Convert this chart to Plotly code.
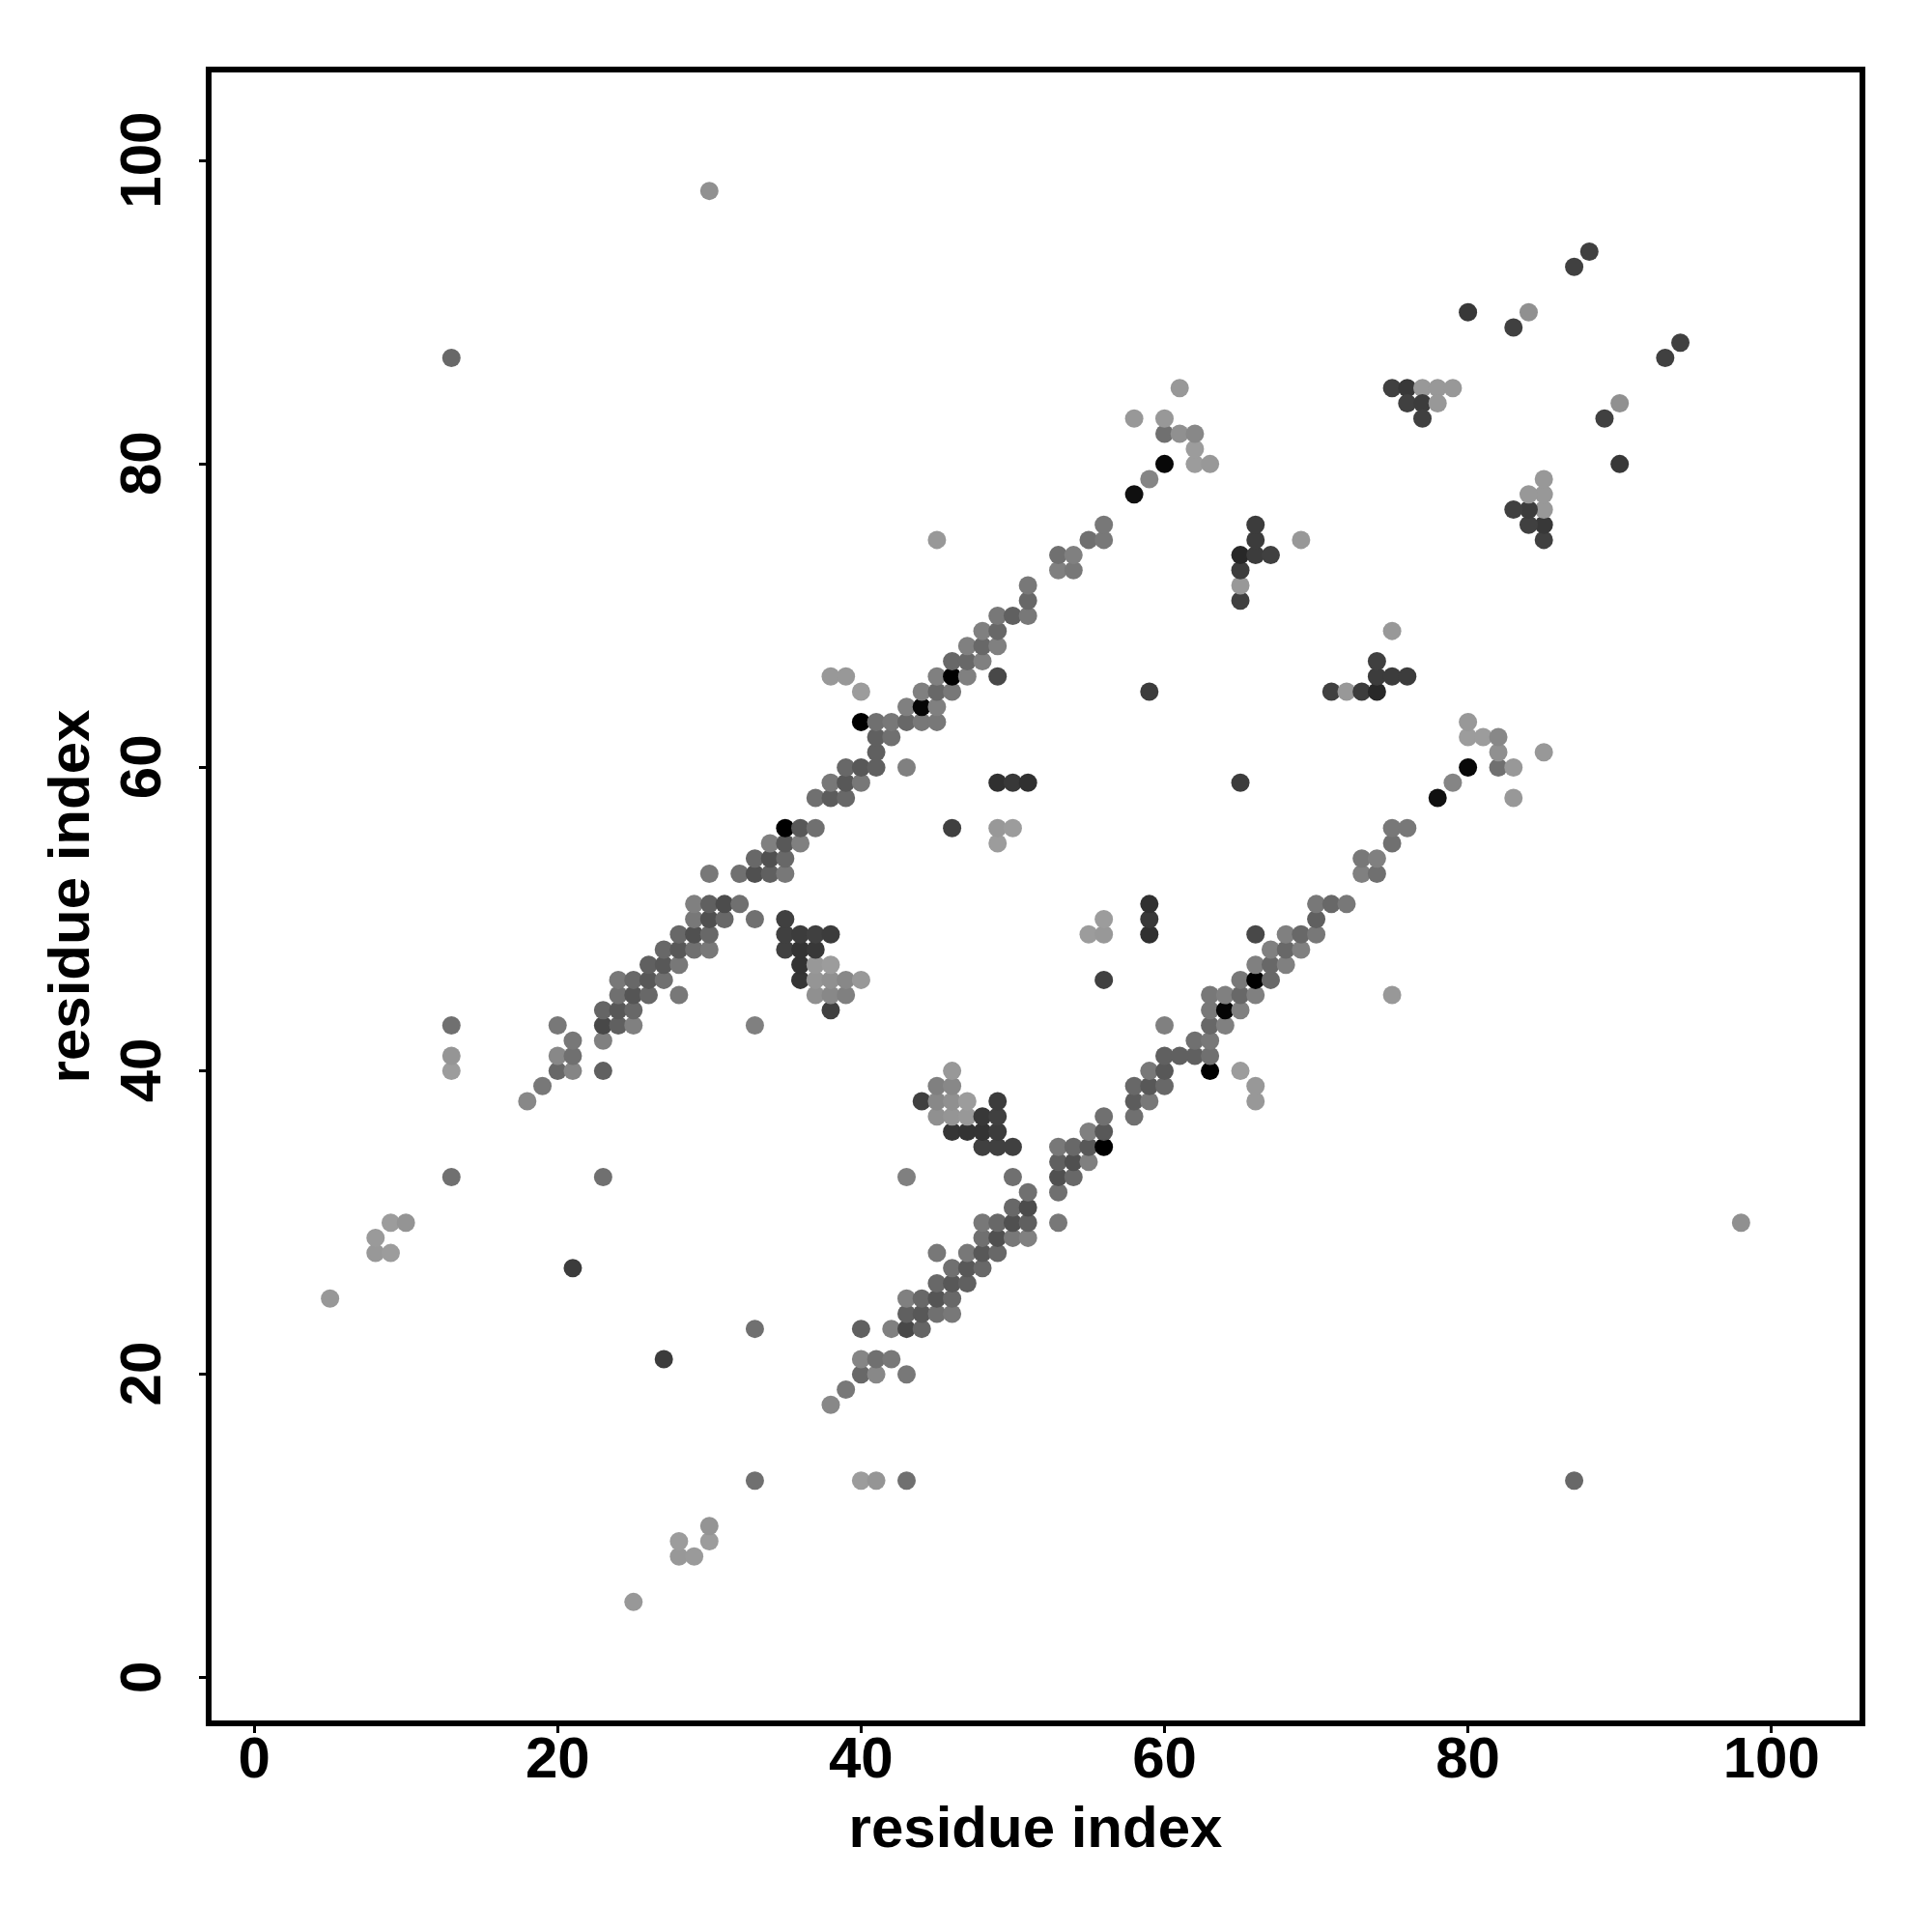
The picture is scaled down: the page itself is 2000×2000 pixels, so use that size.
import plotly.graph_objects as go

# Contact map: symmetric, so each contact is listed once and drawn on both sides
residue_a = [
    5, 8, 9, 8, 9, 10, 21, 13, 23, 18, 19,
    13, 20, 21, 23, 13, 20, 21, 21, 23,
    13, 20, 23, 24, 25, 33, 23, 24, 25, 38,
    24, 25, 26, 28, 37, 38, 39,
    24, 25, 26, 27, 36, 37, 38, 39, 40,
    26, 27, 28, 36, 37, 38,
    27, 28, 29, 30, 35, 36, 37,
    28, 29, 30, 35, 36, 37, 38,
    29, 30, 31, 33, 35,
    29, 30, 31, 32,
    30, 32, 33, 34, 35,
    33, 34, 35,
    34, 35, 36, 49,
    35, 36, 37, 46, 49, 50,
    37, 38, 39,
    38, 39, 40, 49, 50, 51,
    39, 40, 41, 43,
    41, 41, 42,
    40, 41, 42, 43, 44, 45,
    43, 44, 45,
    40, 44, 45, 46, 59,
    38, 39, 45, 46, 47, 49,
    46, 47, 48,
    47, 48, 49,
    48, 49,
    49, 50, 51,
    51, 51,
    53, 54, 53, 54,
    55, 56, 56, 45,
    58, 59, 60, 62, 63, 62,
    60, 61, 62, 58, 60, 61,
    65, 65, 65, 65, 66, 67, 66, 66, 69,
    75, 76, 77, 78, 79, 76, 77, 78, 77,
    80, 84, 83, 87, 88,
    13, 30,
]
residue_b = [
    25, 28, 28, 29, 30, 30, 27, 33, 33, 38, 39,
    40, 40, 40, 40, 41, 41, 41, 42, 42,
    43, 43, 43, 43, 43, 43, 44, 44, 44, 44,
    45, 45, 45, 45, 45, 45, 45,
    46, 46, 46, 46, 46, 46, 46, 46, 46,
    47, 47, 47, 47, 47, 47,
    48, 48, 48, 48, 48, 48, 48,
    49, 49, 49, 49, 49, 49, 49,
    50, 50, 50, 50, 50,
    51, 51, 51, 51,
    53, 53, 53, 53, 53,
    54, 54, 54,
    55, 55, 55, 55,
    56, 56, 56, 56, 56, 56,
    58, 58, 58,
    59, 59, 59, 59, 59, 59,
    60, 60, 60, 60,
    61, 62, 62,
    63, 63, 63, 63, 63, 63,
    64, 64, 64,
    65, 65, 65, 65, 65,
    66, 66, 66, 66, 66, 66,
    67, 67, 67,
    68, 68, 68,
    69, 69,
    70, 70, 70,
    71, 72,
    73, 73, 74, 74,
    75, 75, 76, 75,
    78, 79, 80, 80, 80, 81,
    82, 82, 82, 83, 83, 85,
    71, 72, 73, 74, 74, 74, 75, 76, 75,
    85, 85, 85, 85, 85, 84, 84, 84, 83,
    90, 90, 89, 93, 94,
    87, 98,
]
contact_gray = [
    152, 152, 156, 154, 156, 148, 60, 112, 112, 136, 120,
    156, 104, 133, 96, 149, 136, 112, 120, 128,
    112, 120, 72, 96, 128, 128, 101, 88, 104, 64,
    112, 85, 104, 120, 144, 136, 128,
    120, 104, 88, 112, 53, 149, 144, 136, 152,
    96, 88, 120, 51, 152, 156,
    104, 88, 112, 120, 64, 51, 56,
    104, 80, 104, 64, 60, 64, 60,
    120, 80, 104, 112, 64,
    128, 96, 76, 112,
    120, 112, 80, 96, 120,
    104, 80, 104,
    128, 88, 128, 156,
    0, 88, 112, 64, 152, 156,
    112, 92, 104,
    120, 88, 120, 48, 56, 48,
    104, 88, 96, 128,
    96, 96, 112,
    0, 112, 120, 104, 120, 120,
    128, 5, 128,
    156, 128, 104, 120, 60,
    152, 152, 128, 0, 128, 72,
    104, 104, 128,
    128, 104, 128,
    128, 104,
    120, 96, 120,
    104, 120,
    128, 120, 112, 128,
    112, 120, 120, 152,
    16, 133, 8, 156, 152, 156,
    112, 144, 136, 152, 152, 152,
    64, 152, 60, 40, 60, 64, 60, 60, 152,
    64, 56, 152, 152, 152, 64, 60, 152, 64,
    56, 144, 64, 64, 64,
    104, 144,
]
tick_values = [0, 20, 40, 60, 80, 100]
axis_label = "residue index"

assert len(residue_a) == len(residue_b) == len(contact_gray)

x_values = residue_a + residue_b
y_values = residue_b + residue_a
gray_values = contact_gray + contact_gray
colors = [f"rgb({g},{g},{g})" for g in gray_values]

font = dict(family="Liberation Sans", size=60, color="black", weight=700)
title_font = dict(family="Liberation Sans", size=60, color="black", weight=700)
axis_style = dict(
    range=[-3, 106], tickmode="array", tickvals=tick_values,
    ticks="outside", ticklen=9, tickwidth=3, tickcolor="black",
    showgrid=False, zeroline=False, showline=False,
    tickfont=font, automargin=False,
)

fig = go.Figure(go.Scatter(
    x=x_values, y=y_values, mode="markers",
    marker=dict(size=19, color=colors, line=dict(width=0)),
    showlegend=False, cliponaxis=True,
))
fig.update_layout(
    width=2000, height=2000, paper_bgcolor="white", plot_bgcolor="white",
    margin=dict(l=216, r=72, t=72, b=216, pad=0),
    font=font,
    xaxis=dict(**axis_style, ticktext=[str(t) for t in tick_values],
               ticklabelstandoff=-26,
               title=dict(text=axis_label, font=title_font, standoff=17)),
    yaxis=dict(**axis_style, ticktext=[f"{t}\u00a0" for t in tick_values],
               tickangle=-90, ticklabelstandoff=16,
               title=dict(text=axis_label, font=title_font, standoff=0)),
)
fig.add_shape(type="rect", xref="paper", yref="paper", x0=0, y0=0, x1=1, y1=1,
              line=dict(color="black", width=6), fillcolor="rgba(0,0,0,0)", layer="above")
fig.write_html("out.html", config={"displayModeBar": False},
               post_script="document.body.style.margin='0';")
